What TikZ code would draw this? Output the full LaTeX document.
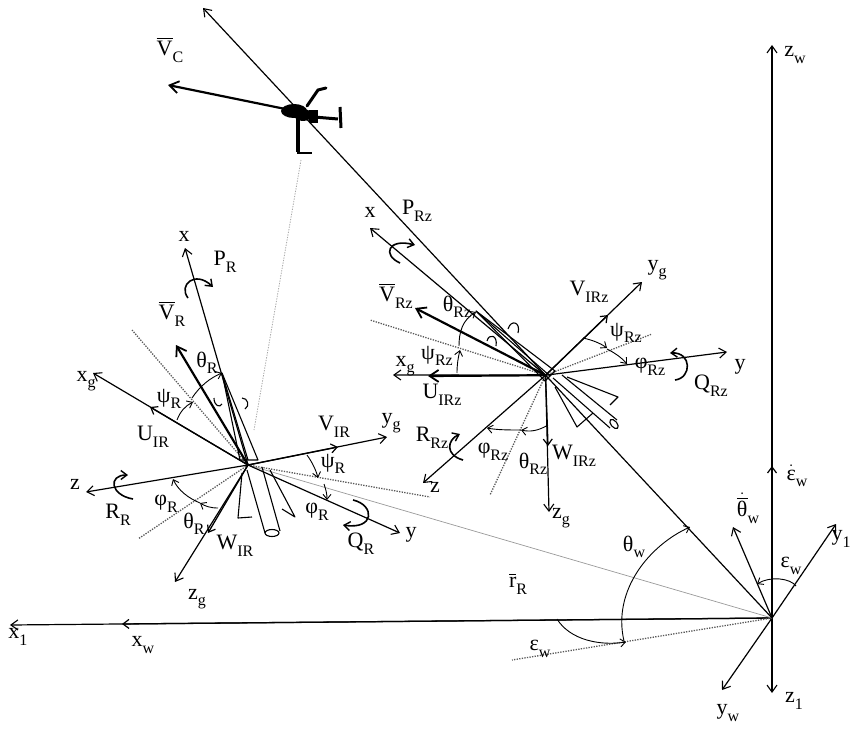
\documentclass[tikz,border=0pt]{standalone}
\usepackage{fontspec}
\setmainfont{Liberation Serif}
\usetikzlibrary{arrows.meta,calc}
\newcommand{\sbs}[2]{#1\raisebox{-0.3em}{\fontsize{16}{16}\selectfont #2}}
\newcommand{\ovr}[1]{\vbox{\hrule height 1pt\kern 2.5pt\hbox{#1}}}
\newcommand{\barV}{\ovr{V}}
\begin{document}
\begin{tikzpicture}[x=1pt,y=-1pt,
  axisline/.style={line width=1.2pt,-{Straight Barb[length=7pt,width=10pt,line width=1.1pt]}},
  heavy/.style={line width=2.2pt,-{Straight Barb[length=9pt,width=12pt,line width=1.8pt]}},
  midmark/.style={line width=1.3pt,-{Straight Barb[length=6pt,width=9pt,line width=1.2pt]}},
  angarc/.style={line width=0.9pt,-{Straight Barb[length=5pt,width=8pt,line width=0.9pt]}},
  spin/.style={line width=1.6pt,-{Straight Barb[length=6pt,width=9pt,line width=1.4pt]}},
  dotsline/.style={line width=1.3pt,black!65,dash pattern=on 1.3pt off 1.3pt},
  faint/.style={line width=0.7pt,black!40},
  bladeln/.style={line width=1.1pt,line join=round},
  lbl/.style={inner sep=0pt,font=\fontsize{22}{24}\selectfont}]
\useasboundingbox (0,0) rectangle (850,730);

% ---------- reference points ----------
\coordinate (O) at (772,618);
\coordinate (ctop) at (203,8);
\coordinate (H2) at ($(O)!0.398!(ctop)$);
\coordinate (heli) at ($(O)!0.8295!(ctop)$);
\coordinate (H1) at (248,465);

% ---------- ground frame ----------
\coordinate (zw) at (772,45);
\coordinate (z1) at (772,693);
\coordinate (x1) at (10,625);
\coordinate (xw) at (122,624);
\coordinate (y1) at (836,524);
\coordinate (yw) at (722,690);
\coordinate (thd) at (733,527);
\coordinate (epsd) at (772,466);
\coordinate (epsl) at (512,660);

\draw[axisline,line width=1.6pt] (O) -- (zw);
\draw[axisline] (O) -- (z1);
\draw[axisline] (O) -- (x1);
\draw[midmark] (O) -- (xw);
\draw[midmark] (O) -- (epsd);
\draw[axisline] (O) -- (y1);
\draw[axisline] (O) -- (yw);
\draw[axisline] (O) -- (thd);
\draw[dotsline] (O) -- (epsl);
\draw[faint] (O) -- (H1);
\draw[axisline] (O) -- (ctop);

\draw[angarc] (557,619) .. controls (570,640) and (600,646) .. (626,642);
\draw[angarc] (624,641) .. controls (612,590) and (650,545) .. (690,527);
\draw[angarc] (796,586) .. controls (790,578) and (770,576) .. (757,584);

\node[lbl] (Lzw) at (795,55) {\sbs{z}{w}};
\node[lbl] (Lz1) at (794,701) {\sbs{z}{1}};
\node[lbl] (Lx1) at (18,637) {\sbs{x}{1}};
\node[lbl] (Lxw) at (143,645) {\sbs{x}{w}};
\node[lbl] (Ly1) at (841,539) {\sbs{y}{1}};
\node[lbl] (Lyw) at (728,713) {\sbs{y}{w}};
\node[lbl] (Ledot) at (797,476) {\sbs{$\dot{\hbox{ε}}$}{w}};
\node[lbl] (Ltdot) at (748,508) {\sbs{$\dot{\hbox{\ovr{θ}}}$}{w}};
\node[lbl] (Lew) at (791,566) {\sbs{ε}{w}};
\node[lbl] (Lew2) at (540,649) {\sbs{ε}{w}};
\node[lbl] (Ltw) at (634,547) {\sbs{θ}{w}};
\node[lbl] (Lr) at (518,584) {\sbs{\ovr{r}}{R}};

% ---------- helicopter ----------
\coordinate (vc) at (168,85);
\draw[heavy] (heli) -- (vc);
\node[lbl] (Lvc) at (170,50) {\sbs{\barV}{C}};
\fill (294,111) ellipse [x radius=13pt, y radius=7pt];
\fill (303,115) ellipse [x radius=9pt, y radius=6pt];
\fill (309,110) rectangle (318,123);
\draw[line width=3pt] (314,117) -- (338,119);
\draw[line width=3pt] (340,107) -- (341,128);
\draw[line width=3pt,line cap=round] (307,106) -- (318,90) -- (326,88);
\draw[line width=3.5pt] (298,117) -- (298,152);
\draw[line width=2.5pt] (297,153) -- (312,153);
\draw[dotsline,black!35,line width=0.8pt] (301,160) -- (254,430);

% ---------- right rotor frame ----------
\coordinate (rx) at (370,228);
\coordinate (rV) at (415,308);
\coordinate (rxg) at (393,375);
\coordinate (ruirz) at (428,376);
\coordinate (ry) at (727,352);
\coordinate (ryg) at (642,282);
\coordinate (rvirz) at (608,315);
\coordinate (rz) at (423,483);
\coordinate (rzg) at (549,512);
\coordinate (rwirz) at (548,446);
\coordinate (rdl) at (370,320);
\coordinate (rdr) at (652,334);
\coordinate (rdd) at (490,495);

\draw[dotsline] (H2) -- (rdl);
\draw[dotsline] (H2) -- (rdr);
\draw[dotsline] (H2) -- (rdd);
\draw[axisline] (H2) -- (rx);
\draw[heavy] (H2) -- (rV);
\draw[axisline] (H2) -- (rxg);
\draw[heavy] (H2) -- (ruirz);
\draw[axisline] (H2) -- (ry);
\draw[axisline] (H2) -- (ryg);
\draw[midmark] (H2) -- (rvirz);
\draw[axisline] (H2) -- (rz);
\draw[axisline] (H2) -- (rzg);
\draw[midmark] (H2) -- (rwirz);

% blade, fins and hub cap
\draw[bladeln] (476,311) -- (555,371) -- (545,381) -- cycle;
\draw[bladeln] (476,311) -- (550,376);
\draw[bladeln] (508,329) .. controls (511,319) and (521,322) .. (518,333);
\draw[bladeln] (487,341) .. controls (489,333) and (498,335) .. (496,346);
\draw[bladeln] (553,378) -- (610,428);
\draw[bladeln] (562,375) -- (617,420);
\draw[bladeln,rotate around={40:(614,424)}] (614,424) ellipse [x radius=3pt, y radius=5.5pt];
\draw[bladeln] (555,387) -- (577,427) -- (593,413);
\draw[bladeln] (567,377) -- (618,397) -- (610,405);

% angles and rotations
\draw[angarc] (459,346) .. controls (459,333) and (462,320) .. (476,312);
\draw[angarc] (457,373) .. controls (457,365) and (458,358) .. (460,350);
\draw[angarc] (583,338) .. controls (592,340) and (600,343) .. (607,348);
\draw[angarc] (607,349) .. controls (615,353) and (622,358) .. (627,364);
\draw[angarc] (548,425) .. controls (538,431) and (530,432) .. (521,430);
\draw[angarc] (521,430) .. controls (510,430) and (497,430) .. (487,428);
\draw[spin] (400,263) .. controls (382,255) and (388,238) .. (415,245);
\draw[spin] (463,460) .. controls (445,455) and (447,440) .. (460,434);
\draw[spin] (675,380) .. controls (692,378) and (692,352) .. (670,353);

\node[lbl] (Lrx) at (370,212) {x};
\node[lbl] (LPRz) at (417,211) {\sbs{P}{Rz}};
\node[lbl] (LVRz) at (396,296) {\sbs{\barV}{Rz}};
\node[lbl] (LthRz) at (457,307) {\sbs{θ}{Rz}};
\node[lbl] (LpsRz) at (437,356) {\sbs{ψ}{Rz}};
\node[lbl] (Lrxg) at (405,366) {\sbs{x}{g}};
\node[lbl] (LUIRz) at (442,395) {\sbs{U}{IRz}};
\node[lbl] (LVIRz) at (589,292) {\sbs{V}{IRz}};
\node[lbl] (Lryg) at (657,270) {\sbs{y}{g}};
\node[lbl] (LpsRz2) at (626,333) {\sbs{ψ}{Rz}};
\node[lbl] (LphRz) at (650,367) {\sbs{φ}{Rz}};
\node[lbl] (Lry) at (740,367) {y};
\node[lbl] (LQRz) at (711,386) {\sbs{Q}{Rz}};
\node[lbl] (LRRz) at (432,438) {\sbs{R}{Rz}};
\node[lbl] (Lrz) at (435,487) {z};
\node[lbl] (LphRz2) at (493,452) {\sbs{φ}{Rz}};
\node[lbl] (LthRz2) at (533,464) {\sbs{θ}{Rz}};
\node[lbl] (LWIRz) at (574,456) {\sbs{W}{IRz}};
\node[lbl] (Lrzg) at (561,518) {\sbs{z}{g}};

% ---------- left rotor frame ----------
\coordinate (lx) at (185,248);
\coordinate (lV) at (176,345);
\coordinate (lxg) at (93,373);
\coordinate (luir) at (150,407);
\coordinate (lz) at (86,492);
\coordinate (lzg) at (175,582);
\coordinate (lwir) at (208,533);
\coordinate (lyg) at (387,437);
\coordinate (lvir) at (338,447);
\coordinate (ly) at (400,533);
\coordinate (ldul) at (132,330);
\coordinate (ldll) at (138,539);
\coordinate (ldr) at (430,497);

\draw[dotsline] (H1) -- (ldul);
\draw[dotsline] (H1) -- (ldll);
\draw[dotsline] (H1) -- (ldr);
\draw[axisline] (H1) -- (lx);
\draw[heavy] (H1) -- (lV);
\draw[axisline] (H1) -- (lxg);
\draw[midmark] (H1) -- (luir);
\draw[axisline] (H1) -- (lz);
\draw[axisline] (H1) -- (lzg);
\draw[midmark] (H1) -- (lwir);
\draw[axisline] (H1) -- (lyg);
\draw[midmark] (H1) -- (lvir);
\draw[axisline] (H1) -- (ly);

% blade, fins and hub cap
\draw[bladeln] (222,373) -- (240,460) -- (258,460) -- cycle;
\draw[bladeln] (222,373) -- (248,460);
\draw[bladeln] (214,398) .. controls (214,406) and (220,408) .. (222,404);
\draw[bladeln] (242,398) .. controls (248,398) and (250,406) .. (245,409);
\draw[bladeln] (247,470) -- (265,533);
\draw[bladeln] (262,467) -- (280,531);
\draw[bladeln] (272,533) ellipse [x radius=7pt, y radius=3.5pt];
\draw[bladeln] (242,473) -- (238,518) -- (252,517);
\draw[bladeln] (270,470) -- (295,517) -- (282,509);

% angles and rotations
\draw[angarc] (192,398) .. controls (200,386) and (210,378) .. (222,373);
\draw[angarc] (177,420) .. controls (180,412) and (185,406) .. (193,402);
\draw[angarc] (218,508) .. controls (210,508) and (205,506) .. (200,503);
\draw[angarc] (200,503) .. controls (188,498) and (178,490) .. (173,479);
\draw[angarc] (307,455) .. controls (312,462) and (316,470) .. (318,478);
\draw[angarc] (324,484) .. controls (326,490) and (327,494) .. (327,500);
\draw[spin] (188,298) .. controls (178,285) and (195,270) .. (213,287);
\draw[spin] (133,499) .. controls (110,495) and (108,475) .. (128,475);
\draw[spin] (353,500) .. controls (375,505) and (375,530) .. (343,525);

\node[lbl] (Llx) at (184,236) {x};
\node[lbl] (LPR) at (225,262) {\sbs{P}{R}};
\node[lbl] (LVR) at (172,314) {\sbs{\barV}{R}};
\node[lbl] (LthR) at (207,363) {\sbs{θ}{R}};
\node[lbl] (LpsR) at (169,399) {\sbs{ψ}{R}};
\node[lbl] (Llxg) at (86,381) {\sbs{x}{g}};
\node[lbl] (LUIR) at (153,437) {\sbs{U}{IR}};
\node[lbl] (Llz) at (75,484) {z};
\node[lbl] (LRR) at (118,515) {\sbs{R}{R}};
\node[lbl] (LphR) at (166,504) {\sbs{φ}{R}};
\node[lbl] (LthR2) at (194,524) {\sbs{θ}{R}};
\node[lbl] (LWIR) at (235,546) {\sbs{W}{IR}};
\node[lbl] (Llzg) at (197,599) {\sbs{z}{g}};
\node[lbl] (LVIR) at (334,427) {\sbs{V}{IR}};
\node[lbl] (Llyg) at (391,423) {\sbs{y}{g}};
\node[lbl] (LpsR2) at (333,464) {\sbs{ψ}{R}};
\node[lbl] (LphR2) at (317,512) {\sbs{φ}{R}};
\node[lbl] (Lly) at (411,535) {y};
\node[lbl] (LQR) at (361,544) {\sbs{Q}{R}};
\end{tikzpicture}
\end{document}
